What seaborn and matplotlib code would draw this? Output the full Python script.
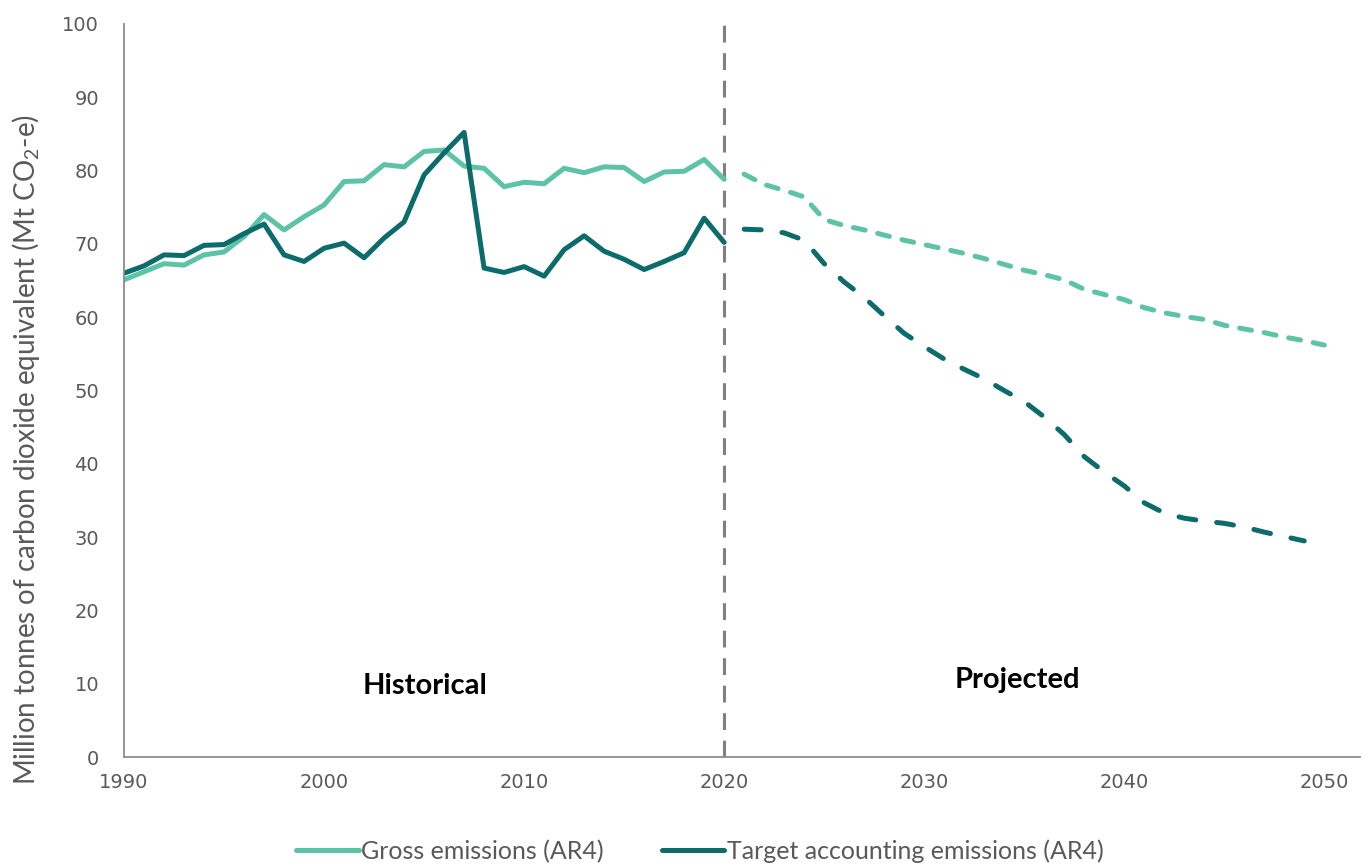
import pandas as pd
import matplotlib
matplotlib.use("Agg")
import matplotlib.pyplot as plt
from matplotlib.lines import Line2D
import seaborn as sns

# Historical values, 1990-2020
hist_years = list(range(1990, 2021))
hist_gross = [65.1, 66.2, 67.3, 67.1, 68.5, 68.9, 71.0, 74.0, 71.9, 73.7,
              75.3, 78.5, 78.6, 80.8, 80.5, 82.6, 82.8, 80.6, 80.3, 77.8,
              78.4, 78.2, 80.3, 79.7, 80.5, 80.4, 78.5, 79.8, 79.9, 81.5, 78.8]
hist_target = [66.0, 67.0, 68.5, 68.4, 69.8, 69.9, 71.4, 72.7, 68.5, 67.6,
               69.4, 70.1, 68.1, 70.8, 73.0, 79.4, 82.4, 85.2, 66.7, 66.1,
               66.9, 65.6, 69.2, 71.1, 69.0, 67.9, 66.5, 67.6, 68.8, 73.5, 70.2]

# Projected values
proj_years_gross = list(range(2021, 2051))
proj_gross = [79.5, 78.1, 77.3, 76.4, 73.3, 72.5, 71.9, 71.2, 70.5, 69.9,
              69.3, 68.7, 68.0, 67.2, 66.4, 65.8, 65.1, 63.8, 63.1, 62.4,
              61.3, 60.6, 60.1, 59.7, 58.9, 58.4, 57.9, 57.3, 56.8, 56.2]
proj_years_target = list(range(2021, 2050))
proj_target = [72.0, 71.9, 71.5, 70.5, 67.3, 64.8, 62.7, 60.2, 57.8, 56.0,
               54.3, 52.9, 51.6, 50.0, 48.5, 46.4, 44.0, 41.0, 38.9, 37.0,
               34.7, 33.3, 32.6, 32.2, 31.9, 31.4, 30.7, 30.1, 29.5]

labels = ["Gross emissions (AR4)", "Target accounting emissions (AR4)"]
colors = ["#5cc3a7", "#0c6b6b"]

sns.set_style("white")
plt.rcParams["font.family"] = ["Lato", "DejaVu Sans"]
plt.rcParams["mathtext.fontset"] = "custom"
plt.rcParams["mathtext.rm"] = "Lato"

fig = plt.figure(figsize=(13.63, 8.66), dpi=100)
ax = fig.add_axes([0.091, 0.1255, 0.907, 0.847])

lw = 3.6
sns.lineplot(x=hist_years, y=hist_gross, ax=ax, color=colors[0], lw=lw,
             solid_joinstyle="round")
sns.lineplot(x=hist_years, y=hist_target, ax=ax, color=colors[1], lw=lw,
             solid_joinstyle="round")
sns.lineplot(x=proj_years_gross, y=proj_gross, ax=ax, color=colors[0], lw=lw,
             linestyle=(0, (2.4, 2.6)), dash_capstyle="round")
sns.lineplot(x=proj_years_target, y=proj_target, ax=ax, color=colors[1], lw=lw,
             linestyle=(0, (3.4, 4.2)), dash_capstyle="round")

# divider between historical and projected
ax.plot([2020, 2020], [0, 100], color="#808080", lw=2.2,
        linestyle=(0, (5.5, 3.5)), zorder=1)

ax.text(2005.05, 9.7, "Historical", ha="center", va="center",
        fontsize=21, fontweight="bold", color="black")
ax.text(2034.65, 10.5, "Projected", ha="center", va="center",
        fontsize=21, fontweight="bold", color="black")

ax.set_xlim(1990, 2051.8)
ax.set_ylim(0, 100)
ax.set_xticks(range(1990, 2051, 10))
ax.set_yticks(range(0, 101, 10))
ax.tick_params(axis="both", colors="#8c8c8c", labelcolor="#595959",
               labelsize=14, length=6, width=1.2, direction="out")
for lab in ax.get_xticklabels() + ax.get_yticklabels():
    lab.set_family("DejaVu Sans")
ax.tick_params(axis="y", pad=12)
ax.tick_params(axis="x", pad=5)
for side in ["top", "right"]:
    ax.spines[side].set_visible(False)
for side in ["left", "bottom"]:
    ax.spines[side].set_color("#8c8c8c")
    ax.spines[side].set_linewidth(1.3)

ax.set_ylabel("Million tonnes of carbon dioxide equivalent (Mt CO$_\\mathregular{2}$-e)",
              fontsize=20, color="#595959")
ax.yaxis.set_label_coords(-0.066, 0.419)

handles = [Line2D([0], [0], color=c, lw=lw) for c in colors]
fig.legend(handles, labels, loc="center", bbox_to_anchor=(0.5135, 0.017),
           ncol=2, frameon=False, fontsize=18, labelcolor="#595959",
           handlelength=2.5, handletextpad=0.1, columnspacing=2.3)

fig.savefig("out.png", dpi=100)
